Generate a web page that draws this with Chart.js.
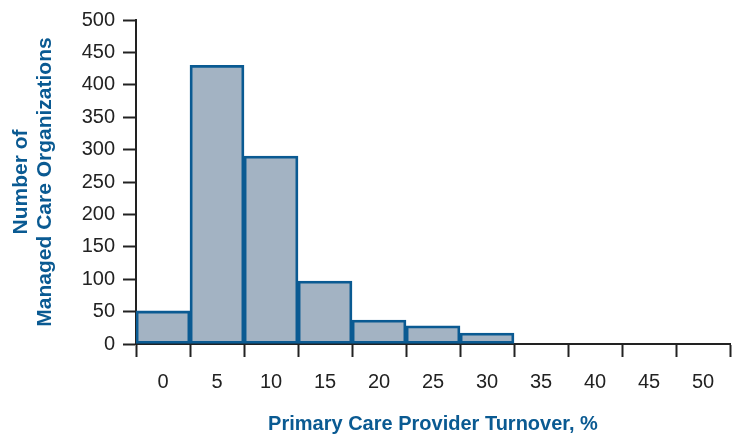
<!DOCTYPE html>
<html lang="en">
<head>
    <meta charset="UTF-8">
    <title>Primary Care Provider Turnover</title>
    <script src="https://cdn.jsdelivr.net/npm/chart.js"></script>
    <style>
        html, body { margin: 0; padding: 0; background: #fff; overflow: hidden; }
    </style>
</head>
<body>
    <canvas id="turnoverChart" width="733" height="436"></canvas>
    <script>
        // turnover bins (%) and number of organizations in each
        const turnoverBins = ['0', '5', '10', '15', '20', '25', '30', '35', '40', '45', '50'];
        const orgCounts = [51, 430, 290, 97, 37, 28, 17, 0, 0, 0, 0];
        const yTicks = [0, 50, 100, 150, 200, 250, 300, 350, 400, 450, 500];

        const blue = '#0a5a92';
        const axisColor = '#222';
        const font = "'Liberation Sans', Arial, sans-serif";

        new Chart(document.getElementById('turnoverChart'), {
            type: 'bar',
            data: {
                labels: turnoverBins,
                datasets: [{
                    data: orgCounts,
                    backgroundColor: '#a3b3c3',
                    borderColor: blue,
                    borderWidth: 2.8,
                    borderSkipped: false,
                    categoryPercentage: 1,
                    barPercentage: 1
                }]
            },
            options: {
                responsive: false,
                animation: false,
                devicePixelRatio: 1,
                layout: { padding: { top: 20, right: 3, left: 0, bottom: 0 } },
                plugins: { legend: { display: false }, tooltip: { enabled: false } },
                scales: {
                    x: {
                        grid: { offset: true, drawOnChartArea: false, drawTicks: true, tickLength: 13, tickColor: axisColor, tickWidth: 2 },
                        border: { display: true, color: axisColor, width: 2 },
                        ticks: { color: axisColor, font: { family: font, size: 20 }, padding: 13, maxRotation: 0, autoSkip: false },
                        title: {
                            display: true,
                            text: 'Primary Care Provider Turnover, %',
                            color: blue,
                            font: { family: font, size: 20, weight: 'bold' },
                            padding: { top: 0, bottom: 0 }
                        },
                        afterFit: s => { s.height = 92; }
                    },
                    y: {
                        min: 0,
                        max: 500,
                        afterBuildTicks: s => { s.ticks = yTicks.map(v => ({ value: v })); },
                        grid: { drawOnChartArea: false, drawTicks: true, tickLength: 13, tickColor: axisColor, tickWidth: 2 },
                        border: { display: true, color: axisColor, width: 2 },
                        ticks: { color: axisColor, font: { family: font, size: 20 }, padding: 8, autoSkip: false },
                        title: {
                            display: true,
                            text: ['Number of', 'Managed Care Organizations'],
                            color: blue,
                            font: { family: font, size: 21, weight: 'bold', lineHeight: 1.143 },
                            padding: { top: 9, bottom: 0 }
                        },
                        afterFit: s => { s.width = 136; }
                    }
                }
            }
        });
    </script>
</body>
</html>
